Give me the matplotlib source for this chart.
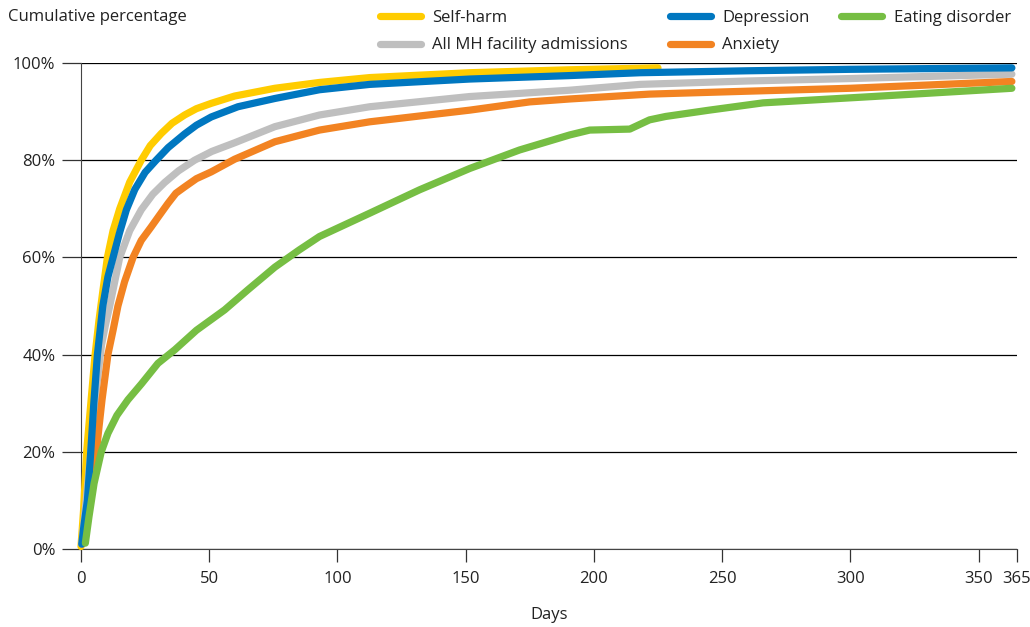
import matplotlib.pyplot as plt
from matplotlib.lines import Line2D

plt.rcParams['font.family'] = ['Open Sans', 'DejaVu Sans']

# Data (days, cumulative %)
selfharm_days = [0, 1, 2.2, 4, 5.5, 7, 8.5, 10.3, 12.5, 15.1, 19, 23.5, 27, 31.3, 35.5, 40.4, 45, 50.8, 59.9, 75.6, 93, 112.6, 151.6, 190, 225]
selfharm_pct = [0.5, 8, 20, 31, 40, 47, 53, 60, 65.5, 70, 75.5, 80, 83, 85.5, 87.6, 89.3, 90.6, 91.7, 93.2, 94.8, 96, 97, 98, 98.6, 99]

depression_days = [0.3, 1.2, 2.5, 3.8, 5, 6.4, 8.5, 10.5, 12.5, 15, 17.7, 21, 25, 29.3, 34, 40.4, 45, 50.8, 61.2, 75.6, 93, 112.6, 151.6, 190, 218, 260, 300, 363]
depression_pct = [1, 5, 10, 20, 30, 40, 50, 56, 60, 65, 69.8, 74, 77.5, 80, 82.6, 85.4, 87.2, 88.9, 91, 92.7, 94.5, 95.6, 96.7, 97.4, 98, 98.4, 98.7, 99]

allmh_days = [0.3, 2, 4, 6, 8, 9.5, 11.2, 15.1, 19, 23.5, 28, 32.6, 38, 44.3, 51, 60, 75.6, 93, 112.6, 151.6, 190.6, 218, 260, 300, 363]
allmh_pct = [1, 10, 21, 33, 42, 46, 50, 60, 65.5, 69.8, 73, 75.4, 77.8, 80, 81.8, 83.6, 86.9, 89.3, 91, 93.1, 94.4, 95.6, 96.3, 96.8, 97.7]

anxiety_days = [0.5, 2, 3.4, 4.6, 6, 7, 8.2, 10.5, 12.5, 14.4, 17, 20.3, 23.5, 27.4, 30.5, 33.9, 37, 40.4, 45, 50.8, 59.9, 75.6, 93, 112.6, 151.6, 175, 190.6, 221.7, 260, 300, 363]
anxiety_pct = [1, 5, 10, 15, 20, 25, 30.7, 40, 45, 50, 55, 60, 63.5, 66.3, 68.6, 71.1, 73.2, 74.5, 76.2, 77.6, 80.2, 83.8, 86.2, 87.9, 90.3, 92, 92.6, 93.6, 94.2, 94.8, 96.2]

eating_days = [1.7, 3.1, 5.1, 7.9, 10.5, 14, 18.3, 23.6, 30, 36.6, 45, 56, 65, 75.6, 85, 93, 112.6, 132, 151.6, 171, 190.6, 198.4, 214, 221.7, 228, 245, 266, 308.7, 363]
eating_pct = [1.2, 6.6, 13.5, 20, 23.8, 27.5, 30.7, 34, 38.2, 41, 45, 49.2, 53.3, 58, 61.5, 64.3, 69.1, 73.9, 78.3, 82.1, 85.2, 86.2, 86.4, 88.3, 89, 90.3, 91.8, 93.1, 94.8]

xticks = [0, 50, 100, 150, 200, 250, 300, 350, 365]
yticks = [0, 20, 40, 60, 80, 100]

c_yellow = '#FFCC00'
c_blue = '#0077C0'
c_grey = '#BFBFBF'
c_orange = '#F28322'
c_green = '#76BE43'
c_text = '#222222'
fs = 12

fig = plt.figure(figsize=(10.30, 6.27), dpi=100)
ax = fig.add_axes([81 / 1030, 1 - 549 / 627, (1017 - 81) / 1030, (549 - 63) / 627])

lw = 5.2
kw = dict(lw=lw, solid_capstyle='round', solid_joinstyle='round', clip_on=False)
ax.plot(selfharm_days, selfharm_pct, color=c_yellow, zorder=3, **kw)
ax.plot(allmh_days, allmh_pct, color=c_grey, zorder=4, **kw)
ax.plot(anxiety_days, anxiety_pct, color=c_orange, zorder=4, **kw)
ax.plot(depression_days, depression_pct, color=c_blue, zorder=5, **kw)
ax.plot(eating_days, eating_pct, color=c_green, zorder=6, **kw)

ax.set_xlim(0, 365)
ax.set_ylim(0, 100)
ax.set_xticks(xticks)
ax.set_xticklabels([str(t) for t in xticks], fontsize=fs, color=c_text)
ax.set_yticks(yticks)
ax.set_yticklabels([f'{t}%' for t in yticks], fontsize=fs, color=c_text)

ax.yaxis.grid(True, color='black', lw=0.9)
ax.set_axisbelow(True)
for s in ['top', 'right']:
    ax.spines[s].set_visible(False)
ax.spines['left'].set_color('#444444')
ax.spines['bottom'].set_color('#444444')
ax.tick_params(axis='y', direction='out', length=13.5, width=0.9, color='#333333', pad=5)
ax.tick_params(axis='x', direction='out', length=9, width=0.9, color='#333333', pad=7)

ax.set_xlabel('Days', fontsize=fs, color=c_text, labelpad=14)
fig.text(8 / 1030, 1 - 17 / 627, 'Cumulative percentage', fontsize=fs, color=c_text, va='center', ha='left')

# Legend laid out in three columns like the reference
def make_legend(entries, x_px):
    handles = [Line2D([], [], color=c, lw=lw, solid_capstyle='round') for c, _ in entries]
    labels = [t for _, t in entries]
    fig.legend(handles, labels, loc='upper left', bbox_to_anchor=(x_px / 1030, 1 - 10 / 627),
               frameon=False, fontsize=fs, handlelength=2.46, handletextpad=0.72,
               labelspacing=0.68, borderaxespad=0, borderpad=0, labelcolor=c_text)

make_legend([(c_yellow, 'Self-harm'), (c_grey, 'All MH facility admissions')], 379.5)
make_legend([(c_blue, 'Depression'), (c_orange, 'Anxiety')], 669.5)
make_legend([(c_green, 'Eating disorder')], 841)

fig.savefig('out.png', dpi=100)
